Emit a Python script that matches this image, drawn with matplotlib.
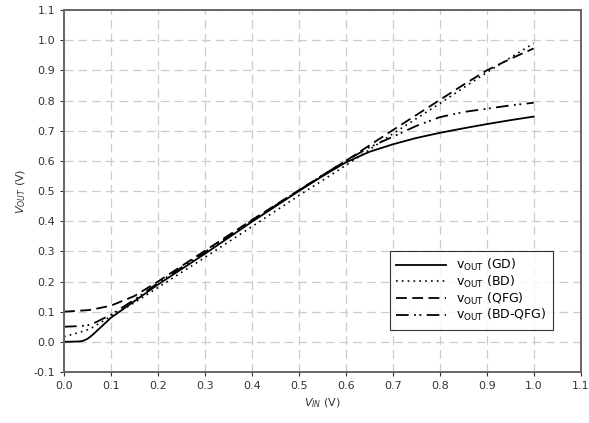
import numpy as np
import matplotlib
matplotlib.use('Agg')
import matplotlib.pyplot as plt

# valeurs
vin = [0.0, 0.03, 0.04, 0.05, 0.06, 0.1, 0.15, 0.2, 0.3, 0.4, 0.5, 0.55, 0.6, 0.65, 0.7, 0.75, 0.8, 0.85, 0.9, 0.95, 1.0]
vout_gd = [0.0, 0.001, 0.003, 0.01, 0.022, 0.08, 0.135, 0.19, 0.292, 0.398, 0.5, 0.549, 0.595, 0.63, 0.655, 0.676, 0.693, 0.708, 0.722, 0.735, 0.747]
vout_bd = [0.017, 0.03, 0.035, 0.04, 0.047, 0.085, 0.13, 0.18, 0.28, 0.382, 0.485, 0.535, 0.585, 0.637, 0.69, 0.74, 0.79, 0.842, 0.893, 0.942, 0.99]
vout_qfg = [0.1, 0.103, 0.104, 0.105, 0.107, 0.12, 0.152, 0.2, 0.302, 0.404, 0.503, 0.552, 0.6, 0.651, 0.702, 0.752, 0.802, 0.852, 0.9, 0.938, 0.973]
vout_bdqfg = [0.05, 0.052, 0.053, 0.055, 0.059, 0.09, 0.14, 0.195, 0.298, 0.402, 0.502, 0.552, 0.6, 0.645, 0.68, 0.716, 0.745, 0.762, 0.773, 0.784, 0.793]

xticks = np.round(np.arange(0, 1.11, 0.1), 1)
yticks = np.round(np.arange(-0.1, 1.11, 0.1), 1)

fig = plt.figure(figsize=(5.89, 4.23), dpi=100)
ax = fig.add_axes([0.1087, 0.1206, 0.877, 0.8554])

ax.plot(vin, vout_gd, color='black', lw=1.3, ls='-', label=r'v$_{\mathrm{OUT}}$ (GD)')
ax.plot(vin, vout_bd, color='black', lw=1.2, ls=(0, (1, 2.5)), label=r'v$_{\mathrm{OUT}}$ (BD)')
ax.plot(vin, vout_qfg, color='black', lw=1.3, ls=(0, (6, 3)), label=r'v$_{\mathrm{OUT}}$ (QFG)')
ax.plot(vin, vout_bdqfg, color='black', lw=1.3, ls=(0, (7, 3, 1, 2, 1, 3)), label=r'v$_{\mathrm{OUT}}$ (BD-QFG)')

ax.set_xlim(0, 1.1)
ax.set_ylim(-0.1, 1.1)
ax.set_xticks(xticks)
ax.set_yticks(yticks)
ax.set_xticklabels([f'{t:.1f}' for t in xticks])
ax.set_yticklabels([f'{t:.1f}' for t in yticks])
ax.tick_params(labelsize=8, colors='#333333', length=3, direction='out')
ax.grid(True, color='#cccccc', ls=(0, (7, 4)), lw=0.9)
ax.set_axisbelow(True)
for s in ax.spines.values():
    s.set_color('#666666')
    s.set_linewidth(1.4)

ax.set_xlabel(r'$V_{IN}$ (V)', fontsize=8, color='#333333')
ax.set_ylabel(r'$V_{OUT}$ (V)', fontsize=8, color='#333333')

leg = ax.legend(loc='lower right', bbox_to_anchor=(0.958, 0.1), fontsize=9,
                frameon=True, fancybox=False, edgecolor='black', handlelength=4,
                borderpad=0.5, labelspacing=0.05)
leg.get_frame().set_linewidth(0.8)

plt.savefig('out.png', dpi=100)
